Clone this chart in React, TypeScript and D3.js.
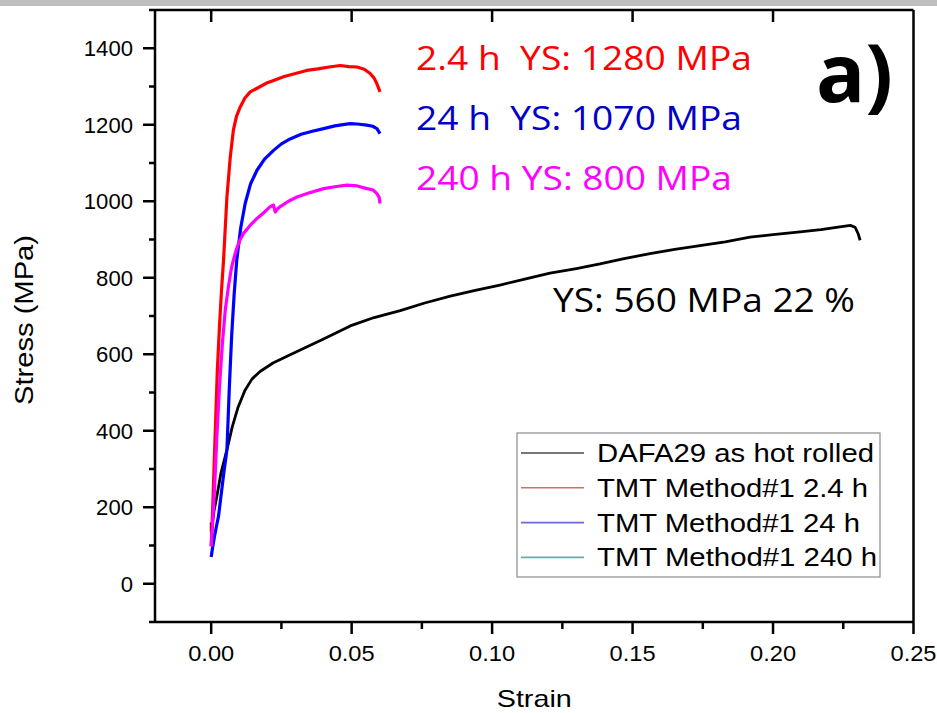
import React from "react";
import * as d3 from "d3";

const W = 937;
const H = 713;

// Data: strain (x) and stress in MPa (y)
const hotRolledStrain = [0, 0, 0.0003, 0.001, 0.002, 0.0035, 0.0056, 0.0075, 0.0095, 0.012, 0.0145, 0.0174, 0.022, 0.027, 0.0317, 0.04, 0.0495, 0.058, 0.0673, 0.076, 0.0851, 0.094, 0.1028, 0.112, 0.1206, 0.13, 0.1384, 0.147, 0.1562, 0.165, 0.174, 0.183, 0.1918, 0.2, 0.2096, 0.217, 0.2238, 0.2275, 0.2292, 0.2303, 0.231];
const hotRolledStress = [160, 135, 150, 190, 228, 290, 350, 410, 460, 505, 535, 555, 577, 595, 611, 640, 674, 696, 714, 734, 752, 767, 781, 797, 812, 824, 836, 850, 863, 874, 884, 894, 906, 913, 920, 926, 933, 937, 932, 915, 898];

const tmt24Strain = [0, 0.0005, 0.001, 0.0016, 0.0022, 0.003, 0.0037, 0.0044, 0.0056, 0.0068, 0.0079, 0.009, 0.0103, 0.012, 0.0139, 0.017, 0.02, 0.0222, 0.026, 0.03, 0.034, 0.038, 0.042, 0.0459, 0.049, 0.0519, 0.0545, 0.0566, 0.058, 0.059, 0.0601];
const tmt24Stress = [100, 190, 300, 430, 560, 680, 770, 846, 1011, 1116, 1186, 1222, 1246, 1270, 1286, 1298, 1310, 1316, 1326, 1334, 1342, 1346, 1351, 1355, 1352, 1351, 1345, 1334, 1322, 1307, 1286];

const tmt240Strain = [0, 0.0005, 0.0012, 0.002, 0.0026, 0.0035, 0.0045, 0.0056, 0.0065, 0.0073, 0.0082, 0.0091, 0.0105, 0.0121, 0.014, 0.0163, 0.019, 0.0222, 0.025, 0.0281, 0.032, 0.036, 0.04, 0.044, 0.0475, 0.0495, 0.052, 0.0554, 0.0575, 0.059, 0.0601];
const tmt240Stress = [70, 95, 125, 155, 176, 230, 290, 350, 520, 650, 760, 846, 930, 994, 1045, 1081, 1110, 1133, 1150, 1163, 1175, 1183, 1190, 1197, 1201, 1203, 1202, 1199, 1196, 1190, 1177];

const tmt2400Strain = [0, 0.0006, 0.0012, 0.002, 0.003, 0.004, 0.005, 0.0062, 0.0072, 0.0079, 0.009, 0.0102, 0.0115, 0.014, 0.0163, 0.019, 0.021, 0.0222, 0.0228, 0.0236, 0.0246, 0.0275, 0.0305, 0.035, 0.04, 0.044, 0.0483, 0.052, 0.0554, 0.0575, 0.059, 0.0598, 0.0601];
const tmt2400Stress = [97, 170, 250, 380, 520, 630, 715, 780, 825, 846, 875, 898, 916, 938, 955, 972, 986, 990, 972, 980, 986, 1000, 1011, 1022, 1033, 1038, 1042, 1040, 1033, 1030, 1020, 1010, 994];

const legendLabels = ["DAFA29 as hot rolled", "TMT Method#1 2.4 h", "TMT Method#1 24 h", "TMT Method#1 240 h"];
const xTicks = [0, 0.05, 0.1, 0.15, 0.2, 0.25];
const xMinorTicks = [0.025, 0.075, 0.125, 0.175, 0.225];
const yTicks = [0, 200, 400, 600, 800, 1000, 1200, 1400];
const yMinorTicks = [-100, 100, 300, 500, 700, 900, 1100, 1300, 1500];

const annotations = [
  { text: "2.4 h  YS: 1280 MPa", color: "#ff0000", stress: 1400, len: 336 },
  { text: "24 h  YS: 1070 MPa", color: "#0000c8", stress: 1243, len: 326 },
  { text: "240 h YS: 800 MPa", color: "#ff00ff", stress: 1086, len: 316 },
];

export default function App() {
  const left = 155, right = 913.5, top = 10, bottom = 622;
  const x = d3.scaleLinear().domain([-0.02, 0.25]).range([left, right]);
  const y = d3.scaleLinear().domain([-100, 1500]).range([bottom, top]);
  const line = d3
    .line<[number, number]>()
    .x((d) => x(d[0]))
    .y((d) => y(d[1]));

  const series = [
    { xs: hotRolledStrain, ys: hotRolledStress, color: "#000000", legend: "#4a4a4a", w: 2.8 },
    { xs: tmt24Strain, ys: tmt24Stress, color: "#ff0000", legend: "#d46a6a", w: 3.2 },
    { xs: tmt240Strain, ys: tmt240Stress, color: "#0000ff", legend: "#6a6ae0", w: 3.2 },
    { xs: tmt2400Strain, ys: tmt2400Stress, color: "#ff00ff", legend: "#6aaaaa", w: 3.2 },
  ];

  const font = "Arial, 'Liberation Sans', sans-serif";
  const calib = "'Open Sans', 'Noto Sans', sans-serif";

  return (
    <svg
      width={W}
      height={H}
      style={{ position: "absolute", left: 0, top: 0, background: "#fff" }}
    >
      <rect x={0} y={0} width={W} height={H} fill="#fff" />
      <rect x={0} y={0} width={W} height={6} fill="#bfbfbf" />

      {/* curves */}
      {series.map((s, i) => (
        <path
          key={i}
          d={line(s.xs.map((v, j) => [v, s.ys[j]] as [number, number])) || ""}
          fill="none"
          stroke={s.color}
          strokeWidth={s.w}
          strokeLinejoin="round"
        />
      ))}

      {/* frame */}
      <g stroke="#000" strokeWidth={2.5} fill="none">
        <line x1={left} x2={right} y1={top} y2={top} />
        <line x1={left} x2={right} y1={bottom} y2={bottom} />
        <line x1={left} x2={left} y1={top} y2={bottom} />
        <line x1={right} x2={right} y1={top} y2={bottom} />
        {yTicks.map((t) => (
          <line key={"yt" + t} x1={left - 12} x2={left} y1={y(t)} y2={y(t)} />
        ))}
        {yMinorTicks.map((t) => (
          <line key={"ym" + t} x1={left - 6} x2={left} y1={y(t)} y2={y(t)} />
        ))}
        {xTicks.map((t) => (
          <line key={"xt" + t} x1={x(t)} x2={x(t)} y1={bottom} y2={bottom + 12} />
        ))}
        {xMinorTicks.map((t) => (
          <line key={"xm" + t} x1={x(t)} x2={x(t)} y1={bottom} y2={bottom + 7} />
        ))}
        {xTicks.slice(0, 5).map((t) => (
          <line key={"xtt" + t} x1={x(t)} x2={x(t)} y1={top} y2={top + 12} />
        ))}
      </g>

      {/* tick labels */}
      <g fontFamily={font} fontSize={22} fill="#000">
        {yTicks.map((t) => (
          <text
            key={"yl" + t}
            x={left - 22}
            y={y(t) + 8}
            textAnchor="end"
            textLength={String(t).length * 12.3}
            lengthAdjust="spacingAndGlyphs"
          >
            {t}
          </text>
        ))}
        {xTicks.map((t) => (
          <text
            key={"xl" + t}
            x={x(t)}
            y={661}
            textAnchor="middle"
            textLength={46}
            lengthAdjust="spacingAndGlyphs"
          >
            {d3.format(".2f")(t)}
          </text>
        ))}
      </g>

      {/* axis titles */}
      <text
        x={(left + right) / 2}
        y={707}
        fontFamily={font}
        fontSize={24}
        textAnchor="middle"
        textLength={75}
        lengthAdjust="spacingAndGlyphs"
      >
        Strain
      </text>
      <text
        transform={`translate(33, ${(top + bottom) / 2 + 4}) rotate(-90)`}
        fontFamily={font}
        fontSize={25}
        textAnchor="middle"
        textLength={170}
        lengthAdjust="spacingAndGlyphs"
      >
        Stress (MPa)
      </text>

      {/* annotations */}
      {annotations.map((a, i) => (
        <text
          key={"an" + i}
          x={416}
          y={y(a.stress) + 24 - 2}
          fill={a.color}
          fontFamily={calib}
          fontSize={33}
          textLength={a.len}
          lengthAdjust="spacingAndGlyphs"
          style={{ whiteSpace: "pre" }}
        >
          {a.text}
        </text>
      ))}
      <text
        x={553}
        y={312}
        fill="#000"
        fontFamily={calib}
        fontSize={33}
        textLength={302}
        lengthAdjust="spacingAndGlyphs"
      >
        YS: 560 MPa 22 %
      </text>
      <text
        x={816}
        y={102}
        fill="#000"
        fontFamily={calib}
        fontWeight={700}
        fontSize={80}
        textLength={77}
        lengthAdjust="spacingAndGlyphs"
      >
        a)
      </text>

      {/* legend */}
      <rect x={517} y={433} width={363} height={144} fill="#fff" stroke="#8c8c8c" strokeWidth={1.2} />
      {legendLabels.map((lab, i) => {
        const cy = 453 + i * 34.8;
        const lens = [277, 271, 263, 280];
        return (
          <g key={"lg" + i}>
            <line x1={521} x2={584} y1={cy} y2={cy} stroke={series[i].legend} strokeWidth={1.6} />
            <text
              x={597}
              y={cy + 9}
              fontFamily={font}
              fontSize={26}
              textLength={lens[i]}
              lengthAdjust="spacingAndGlyphs"
            >
              {lab}
            </text>
          </g>
        );
      })}
    </svg>
  );
}
